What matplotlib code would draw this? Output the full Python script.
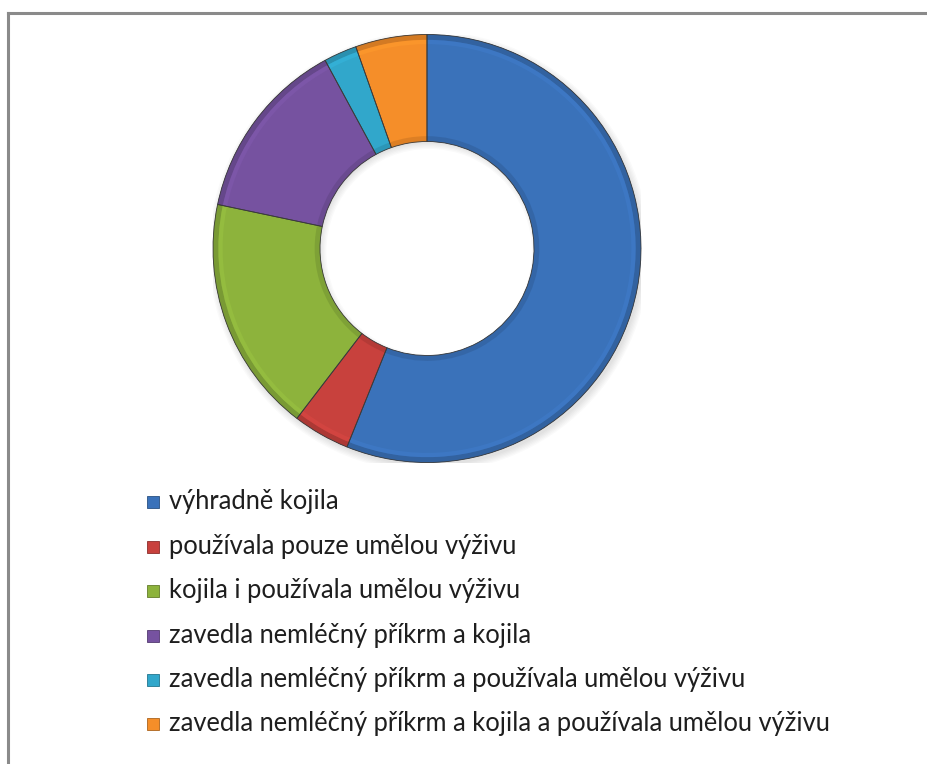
import numpy as np
import matplotlib.pyplot as plt
from matplotlib.patches import Rectangle, Wedge
from matplotlib.colors import to_rgb

# shares of each feeding group (percent)
labels = [
    "výhradně kojila",
    "používala pouze umělou výživu",
    "kojila i používala umělou výživu",
    "zavedla nemléčný příkrm a kojila",
    "zavedla nemléčný příkrm a používala umělou výživu",
    "zavedla nemléčný příkrm a kojila a používala umělou výživu",
]
values = [56.1, 4.3, 17.9, 13.8, 2.5, 5.4]
colors = ["#3a72ba", "#c8413d", "#8db33c", "#7652a0", "#31a7cb", "#f58e29"]

plt.rcParams['font.family'] = ['Lato', 'DejaVu Sans']

W, H = 928, 764
fig = plt.figure(figsize=(W / 100, H / 100), dpi=100)

# grey frame at top and left
fig.add_artist(plt.Line2D([8 / W, 8 / W], [0, 1 - 13 / H], color='#8a8a8a', lw=2.2))
fig.add_artist(plt.Line2D([8 / W, 1], [1 - 13 / H, 1 - 13 / H], color='#8a8a8a', lw=2.2))

# donut axes: centre (427, 248) px, outer radius 214 px
cx, cy, r = 427, 248.5, 214
ax = fig.add_axes([(cx - r) / W, 1 - (cy + r) / H, 2 * r / W, 2 * r / H])


def shade(c, f):
    c = np.array(to_rgb(c))
    return tuple(np.clip(c * f, 0, 1))


# soft shadow round the ring
for i in range(6):
    ax.add_patch(Wedge((0.01, -0.015), 1.0 + 0.006 * i, 0, 360, width=0.52,
                       color='black', alpha=0.02, lw=0))

ax.pie(values, colors=colors, startangle=90, counterclock=False, radius=1.0,
       wedgeprops=dict(width=0.5, linewidth=0))

# bevel: darker rim at the outer and inner edges, light band just inside
dark = [shade(c, 0.86) for c in colors]
light = [shade(c, 1.1) for c in colors]
ax.pie(values, colors=dark, startangle=90, counterclock=False, radius=1.0,
       wedgeprops=dict(width=0.025, linewidth=0))
ax.pie(values, colors=light, startangle=90, counterclock=False, radius=0.975,
       wedgeprops=dict(width=0.02, linewidth=0, alpha=0.5))
ax.pie(values, colors=dark, startangle=90, counterclock=False, radius=0.525,
       wedgeprops=dict(width=0.025, linewidth=0, alpha=0.7))
ax.pie(values, colors=['none'] * len(values), startangle=90, counterclock=False,
       radius=1.0, wedgeprops=dict(width=0.5, edgecolor='#3a3a3a', linewidth=0.6))

# pie() resets the limits, so fix them afterwards
ax.set_xlim(-1.0, 1.0)
ax.set_ylim(-1.0, 1.0)
ax.set_aspect('equal')
ax.axis('off')

# legend drawn row by row
row_y = [502, 547, 591, 636, 680, 724]
for lab, col, y in zip(labels, colors, row_y):
    fig.add_artist(Rectangle((147 / W, 1 - (y + 6) / H), 12 / W, 12 / H,
                             transform=fig.transFigure, facecolor=col,
                             edgecolor=shade(col, 0.7), lw=0.6))
    fig.text(169 / W, 1 - (y + 7) / H, lab, fontsize=18.4, color='#1e1e1e',
             ha='left', va='baseline')

fig.savefig('out.png', dpi=100, facecolor='white')
